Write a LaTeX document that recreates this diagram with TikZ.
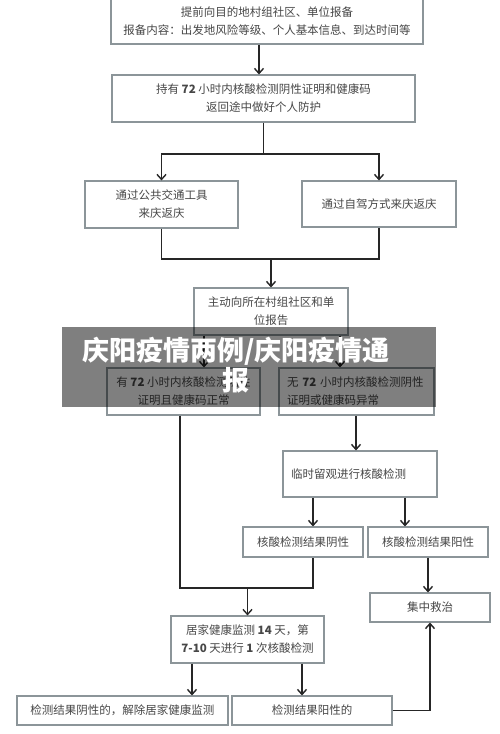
\documentclass[tikz,border=0pt]{standalone}
\usepackage{fontspec}
\newfontfamily\cjk{Noto Sans CJK SC}
\usetikzlibrary{arrows.meta}
\definecolor{boxgray}{HTML}{8C9599}
\definecolor{txt}{HTML}{474747}
\begin{document}
\begin{tikzpicture}[x=1pt,y=-1pt,
  box/.style={draw=boxgray,line width=1.1pt,fill=white,inner sep=0pt,align=center,text=txt,font=\cjk\fontsize{11.5}{18}\selectfont},
  arr/.style={draw=black!85,line width=1.4pt,-{Straight Barb[length=5pt,width=9pt,line width=1.4pt]}},
  ln/.style={draw=black!85,line width=1.4pt,line join=miter},
  wmtext/.style={text=white,font=\cjk\bfseries\fontsize{27}{30}\selectfont,align=center}]
\useasboundingbox (0,0) rectangle (500,734);
\clip (0,0) rectangle (500,734);
\fill[white] (0,0) rectangle (500,734);

% boxes
\node[box,minimum width=312pt,minimum height=46pt] (b1) at (267,21) {提前向目的地村组社区、单位报备\\报备内容：出发地风险等级、个人基本信息、到达时间等};
\node[box,minimum width=303pt,minimum height=47pt] (b2) at (263.5,98.5) {持有 \textbf{72} 小时内核酸检测阴性证明和健康码\\返回途中做好个人防护};
\node[box,minimum width=153pt,minimum height=47pt] (b3l) at (161.5,204.5) {通过公共交通工具\\来庆返庆};
\node[box,minimum width=154pt,minimum height=46pt] (b3r) at (379,204) {通过自驾方式来庆返庆};
\node[box,minimum width=154pt,minimum height=47pt] (b4) at (271,311.5) {主动向所在村组社区和单\\位报告};
\node[box,minimum width=153pt,minimum height=47pt] (b5l) at (183.5,391.5) {有 \textbf{72} 小时内核酸检测阴性\\证明且健康码正常};
\node[box,minimum width=155pt,minimum height=47pt,align=left,text width=139pt] (b5r) at (356.5,391.5) {无 \textbf{72} 小时内核酸检测阴性\\证明或健康码异常};
\node[box,minimum width=154pt,minimum height=46pt,align=left,text width=138pt] (b6) at (360,474) {临时留观进行核酸检测};
\node[box,minimum width=120pt,minimum height=30pt] (b7l) at (303,542) {核酸检测结果阴性};
\node[box,minimum width=120pt,minimum height=30pt] (b7r) at (428,542) {核酸检测结果阳性};
\node[box,minimum width=120pt,minimum height=29pt] (b8) at (430,607.5) {集中救治};
\node[box,minimum width=153pt,minimum height=47pt] (b9) at (247.5,639.5) {居家健康监测 \textbf{14} 天，第\\\textbf{7-10} 天进行 \textbf{1} 次核酸检测};
\node[box,minimum width=211pt,minimum height=29pt] (b10l) at (122.5,710.5) {检测结果阴性的，解除居家健康监测};
\node[box,minimum width=160pt,minimum height=29pt] (b10r) at (312,710.5) {检测结果阳性的};

% guide coordinates
\coordinate (v259) at (259,0);
\coordinate (h154) at (0,154);
\coordinate (j2) at (271,259);
\coordinate (v204) at (204,0);
\coordinate (v340) at (340,0);
\coordinate (v180) at (180,0);
\coordinate (v313) at (313,0);
\coordinate (v356) at (356,0);
\coordinate (v405) at (405,0);
\coordinate (v192) at (192,0);
\coordinate (v302) at (302,0);
\coordinate (j3) at (247.5,588);

% connectors
\draw[arr] (b1.south -| v259) -- (b2.north -| v259);
\draw[ln] (b2.south) -- (b2.south |- h154);
\draw[arr] (b2.south |- h154) -| (b3l.north);
\draw[arr] (b2.south |- h154) -| (b3r.north);
\draw[ln] (b3l.south) |- (j2) -| (b3r.south);
\draw[arr] (j2) -- (b4.north);
\draw[arr] (b4.south -| v204) -- (b5l.north -| v204);
\draw[arr] (b4.south -| v340) -- (b5r.north -| v340);
\draw[arr] (b5r.south -| v356) -- (b6.north -| v356);
\draw[arr] (b6.south -| v313) -- (b7l.north -| v313);
\draw[arr] (b6.south -| v405) -- (b7r.north -| v405);
\draw[ln] (b5l.south -| v180) |- (j3) -| (b7l.south -| v313);
\draw[arr] (j3) -- (b9.north);
\draw[arr] (b7r.south) -- (b7r.south |- b8.north);
\draw[arr] (b9.south -| v192) -- (b10l.north -| v192);
\draw[arr] (b9.south -| v302) -- (b10r.north -| v302);
\draw[arr] (b10r.east) -| (b8.south);

% watermark banner
\fill[black,opacity=0.5] (62,327) rectangle (436,407);
\node[wmtext] (wm) at (236,365) {庆阳疫情两例/庆阳疫情通\\报};
\end{tikzpicture}
\end{document}
